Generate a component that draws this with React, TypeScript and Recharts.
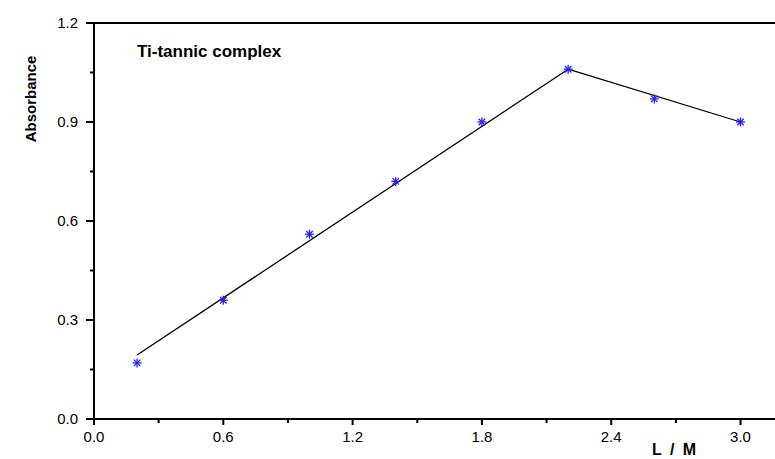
import React from 'react';
import {
  ComposedChart,
  Line,
  Scatter,
  XAxis,
  YAxis,
  ReferenceLine,
} from 'recharts';

// measured points (L/M ratio vs absorbance)
const ratioValues = [0.2, 0.6, 1.0, 1.4, 1.8, 2.2, 2.6, 3.0];
const absorbanceValues = [0.17, 0.36, 0.56, 0.72, 0.9, 1.06, 0.97, 0.9];

// two straight fit segments
const riseFitX = [0.2, 2.2];
const riseFitY = [0.194, 1.06];
const fallFitX = [2.2, 3.0];
const fallFitY = [1.06, 0.9];

const xTicks = [0, 0.3, 0.6, 0.9, 1.2, 1.5, 1.8, 2.1, 2.4, 2.7, 3.0];
const yTicks = [0, 0.15, 0.3, 0.45, 0.6, 0.75, 0.9, 1.05, 1.2];

const FONT = '"Liberation Sans", Arial, sans-serif';

const points = ratioValues.map((x, i) => ({ x, y: absorbanceValues[i] }));
const riseLine = riseFitX.map((x, i) => ({ x, y: riseFitY[i] }));
const fallLine = fallFitX.map((x, i) => ({ x, y: fallFitY[i] }));

const isMultiple = (v: number, step: number) =>
  Math.abs(v / step - Math.round(v / step)) < 1e-6;

const XTick = (props: any) => {
  const { x, y, payload } = props;
  const major = isMultiple(payload.value, 0.6);
  return (
    <g>
      <line x1={x} y1={y} x2={x} y2={y + (major ? 6 : 4)} stroke="#000" strokeWidth={2} />
      {major && (
        <text x={x} y={y + 23} textAnchor="middle" fontSize={15} fontFamily={FONT} fill="#000">
          {payload.value.toFixed(1)}
        </text>
      )}
    </g>
  );
};

const YTick = (props: any) => {
  const { x, y, payload } = props;
  const major = isMultiple(payload.value, 0.3);
  return (
    <g>
      <line x1={x - (major ? 8 : 4)} y1={y} x2={x} y2={y} stroke="#000" strokeWidth={2} />
      {major && (
        <text x={x - 16} y={y + 5} textAnchor="end" fontSize={15} fontFamily={FONT} fill="#000">
          {payload.value.toFixed(1)}
        </text>
      )}
    </g>
  );
};

const Star = (props: any) => {
  const { cx, cy } = props;
  const r = 4.5;
  const d = r * 0.72;
  return (
    <g stroke="#1f1fff" strokeWidth={1.3}>
      <line x1={cx - r} y1={cy} x2={cx + r} y2={cy} />
      <line x1={cx} y1={cy - r} x2={cx} y2={cy + r} />
      <line x1={cx - d} y1={cy - d} x2={cx + d} y2={cy + d} />
      <line x1={cx - d} y1={cy + d} x2={cx + d} y2={cy - d} />
    </g>
  );
};

export default function App() {
  return (
    <div style={{ position: 'absolute', left: 0, top: 0, width: 775, height: 459, background: '#fff' }}>
      <ComposedChart
        width={775}
        height={459}
        margin={{ top: 23, right: 0, bottom: 0, left: 0 }}
      >
        <XAxis
          type="number"
          dataKey="x"
          domain={[0, 3.16]}
          ticks={xTicks}
          height={40}
          axisLine={{ stroke: '#000', strokeWidth: 2 }}
          tickLine={false}
          tickSize={0}
          tickMargin={0}
          tick={<XTick />}
          interval={0}
        />
        <YAxis
          type="number"
          dataKey="y"
          domain={[0, 1.2]}
          ticks={yTicks}
          width={94}
          axisLine={{ stroke: '#000', strokeWidth: 2 }}
          tickLine={false}
          tickSize={0}
          tickMargin={0}
          tick={<YTick />}
          interval={0}
        />
        <ReferenceLine y={1.2} stroke="#000" strokeWidth={2} />
        <Line
          data={riseLine}
          dataKey="y"
          type="linear"
          stroke="#000"
          strokeWidth={1.3}
          dot={false}
          activeDot={false}
          isAnimationActive={false}
        />
        <Line
          data={fallLine}
          dataKey="y"
          type="linear"
          stroke="#000"
          strokeWidth={1.3}
          dot={false}
          activeDot={false}
          isAnimationActive={false}
        />
        <Scatter data={points} dataKey="y" shape={<Star />} isAnimationActive={false} />
        <text x={137} y={57} fontSize={17} fontWeight="bold" fontFamily={FONT} fill="#000">
          Ti-tannic complex
        </text>
        <text
          x={36}
          y={99}
          transform="rotate(-90 36 99)"
          textAnchor="middle"
          fontSize={15}
          fontWeight="bold"
          fontFamily={'"Liberation Sans Narrow", ' + FONT}
          fill="#000"
        >
          Absorbance
        </text>
        <text x={652} y={455} fontSize={16} fontWeight="bold" wordSpacing={4} fontFamily={FONT} fill="#000">
          L / M
        </text>
      </ComposedChart>
    </div>
  );
}
